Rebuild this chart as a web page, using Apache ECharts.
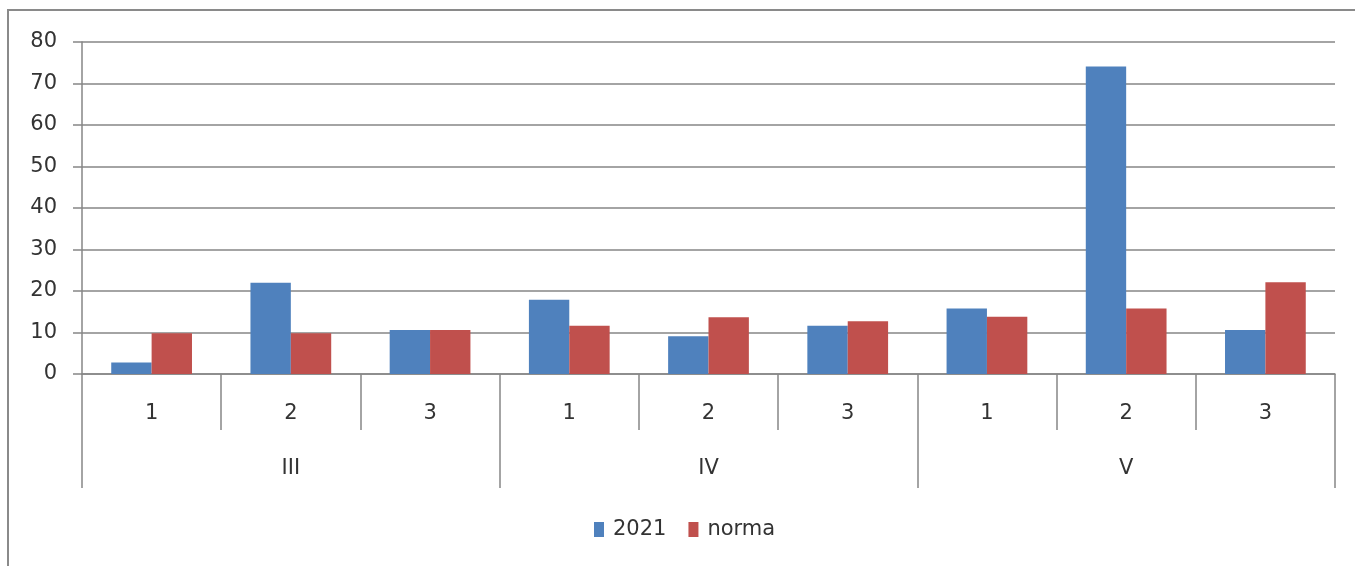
<!DOCTYPE html>
<html>
<head>
<meta charset="utf-8">
<script src="https://cdn.jsdelivr.net/npm/echarts@6/dist/echarts.min.js"></script>
<style>
  html, body { margin: 0; padding: 0; background: #ffffff; }
  #chart { width: 1355px; height: 566px; }
</style>
</head>
<body>
<div id="chart"></div>
<script>
// Ten-day periods (decades) within each month
const decades = ['1', '2', '3', '1', '2', '3', '1', '2', '3'];
// Months, each spanning three decades
const months = ['III', 'IV', 'V'];
// Precipitation in 2021 and the long-term norm
const values2021 = [2.8, 22, 10.6, 17.9, 9.1, 11.6, 15.8, 74.1, 10.6];
const valuesNorma = [9.8, 9.8, 10.6, 11.6, 13.7, 12.7, 13.8, 15.8, 22.1];
const yTicks = { min: 0, max: 80, interval: 10 };

const textColor = '#333333';
const lineColor = '#868686';
const font = 'DejaVu Sans';
const fontSize = 21;

const chart = echarts.init(document.getElementById('chart'), null, { renderer: 'canvas' });
chart.setOption({
  animation: false,
  backgroundColor: '#ffffff',
  textStyle: { fontFamily: font },
  graphic: [{
    type: 'rect',
    shape: { x: 8, y: 10, width: 1400, height: 600 },
    style: { fill: 'none', stroke: '#8a8a8a', lineWidth: 2 },
    silent: true
  }],
  grid: { left: 82, right: 20, top: 42, bottom: 192, containLabel: false },
  legend: {
    left: 589, top: 514,
    itemWidth: 10, itemHeight: 15, itemGap: 22,
    icon: 'rect',
    textStyle: { fontFamily: font, fontSize: fontSize, color: textColor, padding: [0, 0, 0, 4] },
    data: ['2021', 'norma']
  },
  xAxis: [{
    type: 'category',
    data: decades,
    position: 'bottom',
    axisLine: { show: true, lineStyle: { color: lineColor, width: 1.5 } },
    axisTick: { show: true, interval: 0, length: 56, lineStyle: { color: lineColor, width: 1.5 } },
    axisLabel: { interval: 0, margin: 29, fontSize: fontSize, color: textColor, fontFamily: font },
    splitLine: { show: false }
  }, {
    type: 'category',
    data: months,
    position: 'bottom',
    axisLine: { show: false },
    axisTick: { show: true, interval: 0, length: 114, lineStyle: { color: lineColor, width: 1.5 } },
    axisLabel: { interval: 0, margin: 84, fontSize: fontSize, color: textColor, fontFamily: font },
    splitLine: { show: false }
  }],
  yAxis: {
    type: 'value',
    min: yTicks.min, max: yTicks.max, interval: yTicks.interval,
    axisLine: { show: true, lineStyle: { color: lineColor, width: 1.5 } },
    axisTick: { show: true, length: 9, lineStyle: { color: lineColor, width: 1.5 } },
    axisLabel: { margin: 25, fontSize: fontSize, color: textColor, fontFamily: font },
    splitLine: { show: true, lineStyle: { color: lineColor, width: 1.5 } }
  },
  series: [{
    name: '2021',
    type: 'bar',
    xAxisIndex: 0,
    data: values2021,
    barGap: '0%',
    barCategoryGap: '42%',
    itemStyle: { color: '#4F81BD' }
  }, {
    name: 'norma',
    type: 'bar',
    xAxisIndex: 0,
    data: valuesNorma,
    barGap: '0%',
    barCategoryGap: '42%',
    itemStyle: { color: '#C0504D' }
  }]
});
</script>
</body>
</html>
